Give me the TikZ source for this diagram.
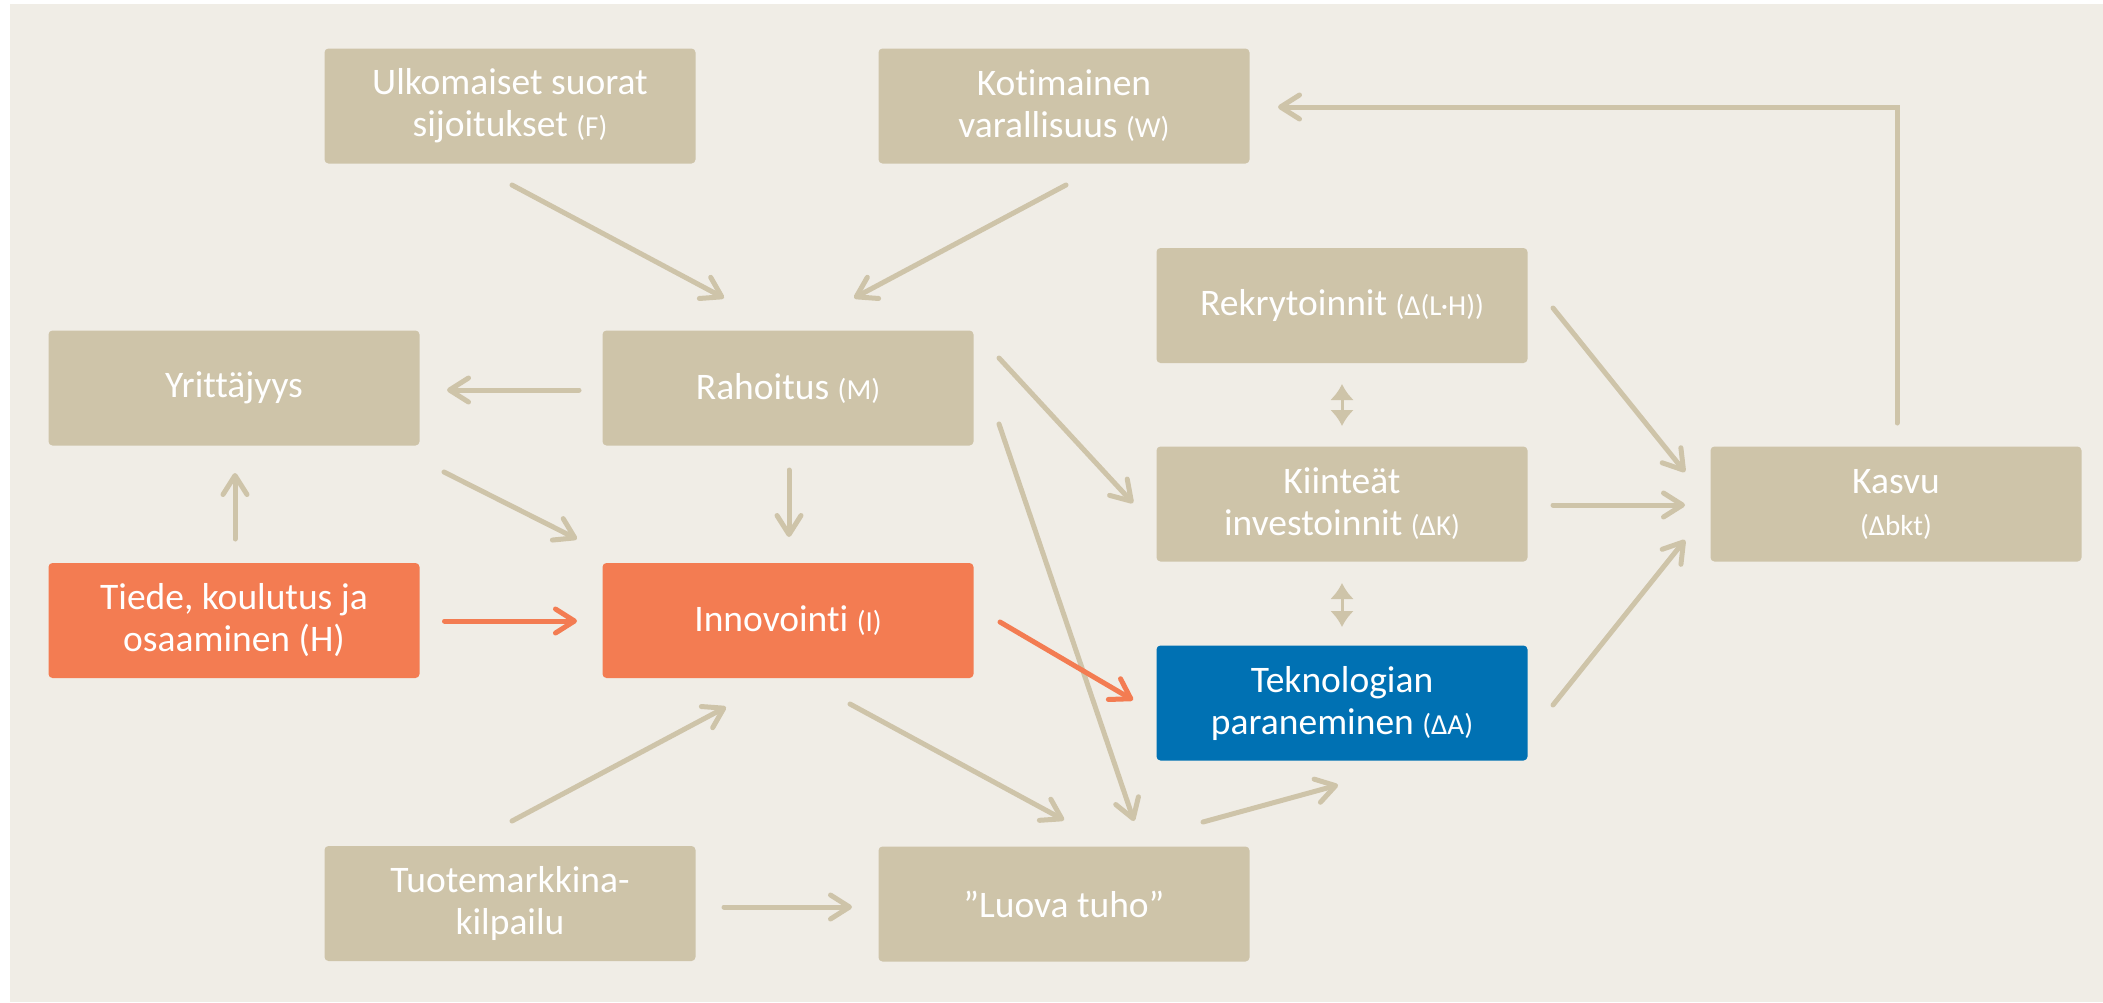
\documentclass[tikz,border=0pt]{standalone}
\usepackage{fontspec}
\setmainfont{Carlito}[Ligatures=NoCommon]
\usetikzlibrary{arrows.meta}
\definecolor{bg}{HTML}{F0EDE6}
\definecolor{tanc}{HTML}{CEC4A9}
\definecolor{orng}{HTML}{F37C52}
\definecolor{blu}{HTML}{0071B3}
\newcommand\smp[1]{{\fontsize{29}{42}\selectfont #1}}
\begin{document}
\begin{tikzpicture}[x=1pt,y=-1pt,
 box/.style={rectangle, rounded corners=4pt, fill=tanc, text=white, minimum width=371pt, minimum height=115pt, inner sep=0pt, align=center, font=\fontsize{37.5}{42}\selectfont},
 obox/.style={box, fill=orng},
 bbox/.style={box, fill=blu},
 arr/.style={draw=tanc, line width=5pt, line cap=round, -{Straight Barb[length=19pt,width=24pt,line cap=round,line join=round]}},
 oarr/.style={arr, draw=orng},
 darr/.style={draw=tanc, line width=3pt, {Latex[length=16pt,width=24pt]}-{Latex[length=16pt,width=24pt]}}
]
\useasboundingbox (0,0) rectangle (2103,1002);
\fill[white] (0,0) rectangle (2103,1002);
\fill[bg] (10,4) rectangle (2103,1002);

% nodes
\node[box]  (ulk) at (510,106)   {Ulkomaiset suorat\\sijoitukset \smp{(F)}};
\node[box]  (kot) at (1064,106)  {Kotimainen\\varallisuus \smp{(W)}};
\node[box]  (yri) at (234,388)   {Yrittäjyys};
\node[box]  (rah) at (788,388)   {Rahoitus \smp{(M)}};
\node[box]  (rek) at (1342,305.5) {Rekrytoinnit \smp{(Δ(L·H))}};
\node[box]  (kii) at (1342,504)  {Kiinteät\\investoinnit \smp{(ΔK)}};
\node[bbox] (tek) at (1342,703)  {Teknologian\\paraneminen \smp{(ΔA)}};
\node[obox] (tie) at (234,620.5) {Tiede, koulutus ja\\osaaminen (H)};
\node[obox] (inn) at (788,620.5) {Innovointi \smp{(I)}};
\node[box]  (kas) at (1896,504)  {Kasvu\\\smp{(Δbkt)}};
\node[box]  (tuo) at (510,903.5) {Tuotemarkkina-\\kilpailu};
\node[box]  (luo) at (1064,904)  {”Luova tuho”};

% connector end points
\coordinate (ulk-o) at (512,185);   \coordinate (rah-i1) at (724,298);
\coordinate (kot-o) at (1066,185);  \coordinate (rah-i2) at (854,298);
\coordinate (kas-o) at (1897,423);  \coordinate (kot-i) at (1278,107);
\coordinate (rah-o1) at (579,390);  \coordinate (yri-i) at (447,390);
\coordinate (rah-o2) at (789,470);  \coordinate (inn-i1) at (789,537);
\coordinate (tie-o1) at (235,539);  \coordinate (yri-i2) at (235,473);
\coordinate (yri-o) at (444,472);   \coordinate (inn-i2) at (577,539);
\coordinate (tie-o2) at (444.5,621); \coordinate (inn-i3) at (577,621);
\coordinate (rah-o3) at (999,358);  \coordinate (kii-i) at (1133,503);
\coordinate (rah-o4) at (999,424);  \coordinate (luo-i1) at (1134,821);
\coordinate (inn-o1) at (1000,622); \coordinate (tek-i1) at (1133,700);
\coordinate (inn-o2) at (850,704);  \coordinate (luo-i2) at (1064,820);
\coordinate (tuo-o1) at (512,821);  \coordinate (inn-i4) at (726,707);
\coordinate (tuo-o2) at (724,907);  \coordinate (luo-i3) at (852,907);
\coordinate (luo-o) at (1203,822);  \coordinate (tek-i2) at (1338,785);
\coordinate (rek-o) at (1553,308);  \coordinate (kas-i1) at (1685,472);
\coordinate (kii-o) at (1553,505);  \coordinate (kas-i2) at (1685,505);
\coordinate (tek-o) at (1553,705);  \coordinate (kas-i3) at (1685,540);
\coordinate (rek-b) at (1342,384);  \coordinate (kii-t) at (1342,426);
\coordinate (kii-b) at (1342,583);  \coordinate (tek-t) at (1342,627);

% connectors
\draw[arr] (ulk-o) -- (rah-i1);
\draw[arr] (kot-o) -- (rah-i2);
\draw[arr] (kas-o) |- (kot-i);
\draw[arr] (rah-o1) -- (yri-i);
\draw[arr] (rah-o2) -- (inn-i1);
\draw[arr] (tie-o1) -- (yri-i2);
\draw[arr] (yri-o) -- (inn-i2);
\draw[oarr] (tie-o2) -- (inn-i3);
\draw[arr] (rah-o3) -- (kii-i);
\draw[arr] (rah-o4) -- (luo-i1);
\draw[oarr] (inn-o1) -- (tek-i1);
\draw[arr] (inn-o2) -- (luo-i2);
\draw[arr] (tuo-o1) -- (inn-i4);
\draw[arr] (tuo-o2) -- (luo-i3);
\draw[arr] (luo-o) -- (tek-i2);
\draw[arr] (rek-o) -- (kas-i1);
\draw[arr] (kii-o) -- (kas-i2);
\draw[arr] (tek-o) -- (kas-i3);
\draw[darr] (rek-b) -- (kii-t);
\draw[darr] (kii-b) -- (tek-t);
\end{tikzpicture}
\end{document}
